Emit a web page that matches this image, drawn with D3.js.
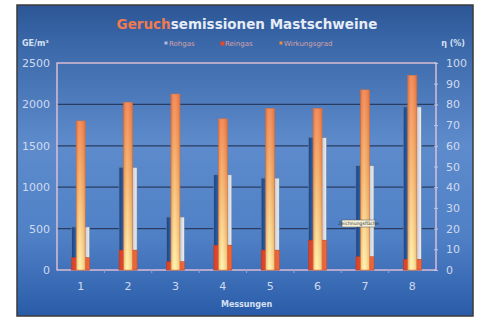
<!DOCTYPE html>
<html>
<head>
<meta charset="utf-8">
<script src="https://cdn.jsdelivr.net/npm/d3@7"></script>
<style>
  body { margin: 0; background: #fff; }
  svg { display: block; font-family: "DejaVu Sans", Verdana, sans-serif; }
</style>
</head>
<body>
<div id="chart"></div>
<script>
// Messungen 1..8
const categories = ["1", "2", "3", "4", "5", "6", "7", "8"];
const rohgas = [520, 1240, 640, 1150, 1110, 1600, 1260, 1970];
const reingas = [150, 240, 100, 300, 240, 360, 160, 130];
const wirkungsgrad = [72, 81, 85, 73, 78, 78, 87, 94];
const leftTicks = [0, 500, 1000, 1500, 2000, 2500];
const rightTicks = [0, 10, 20, 30, 40, 50, 60, 70, 80, 90, 100];
const gridTicks = [500, 1000, 1500, 2000];

const W = 481, H = 317;
const box = { x: 17, y: 5, w: 456, h: 311 };
const plot = { left: 57, right: 436, top: 63, bottom: 270 };

const svg = d3.select("#chart").append("svg")
    .attr("width", W)
    .attr("height", H);

const defs = svg.append("defs");

// hintergrund
const bg = defs.append("linearGradient").attr("id", "bg")
    .attr("x1", 0).attr("y1", 0).attr("x2", 0).attr("y2", 1);
bg.append("stop").attr("offset", "0%").attr("stop-color", "#2c5696");
bg.append("stop").attr("offset", "12%").attr("stop-color", "#3a67a8");
bg.append("stop").attr("offset", "45%").attr("stop-color", "#5d8bcc");
bg.append("stop").attr("offset", "75%").attr("stop-color", "#4f80c6");
bg.append("stop").attr("offset", "100%").attr("stop-color", "#2a5ba8");

const rohGrad = defs.append("linearGradient").attr("id", "roh")
    .attr("x1", 0).attr("y1", 0).attr("x2", 1).attr("y2", 0);
rohGrad.append("stop").attr("offset", "0%").attr("stop-color", "#13428a");
rohGrad.append("stop").attr("offset", "30%").attr("stop-color", "#3a6aa8");
rohGrad.append("stop").attr("offset", "70%").attr("stop-color", "#b8c6d8");
rohGrad.append("stop").attr("offset", "100%").attr("stop-color", "#eef0f2");

const reinGrad = defs.append("linearGradient").attr("id", "rein")
    .attr("x1", 0).attr("y1", 0).attr("x2", 1).attr("y2", 0);
reinGrad.append("stop").attr("offset", "0%").attr("stop-color", "#d8402a");
reinGrad.append("stop").attr("offset", "100%").attr("stop-color", "#ee6a3a");

const wirkGrad = defs.append("linearGradient").attr("id", "wirk")
    .attr("x1", 0).attr("y1", 0).attr("x2", 0).attr("y2", 1);
wirkGrad.append("stop").attr("offset", "0%").attr("stop-color", "#f07a42");
wirkGrad.append("stop").attr("offset", "45%").attr("stop-color", "#f6b060");
wirkGrad.append("stop").attr("offset", "100%").attr("stop-color", "#fff2a0");

const wirkSide = defs.append("linearGradient").attr("id", "wirkSide")
    .attr("x1", 0).attr("y1", 0).attr("x2", 1).attr("y2", 0);
wirkSide.append("stop").attr("offset", "0%").attr("stop-color", "#c05020").attr("stop-opacity", 0.35);
wirkSide.append("stop").attr("offset", "40%").attr("stop-color", "#ffffff").attr("stop-opacity", 0.15);
wirkSide.append("stop").attr("offset", "100%").attr("stop-color", "#c05020").attr("stop-opacity", 0.3);

svg.append("rect")
    .attr("x", box.x).attr("y", box.y)
    .attr("width", box.w).attr("height", box.h)
    .attr("fill", "url(#bg)")
    .attr("stroke", "#3a3a3a")
    .attr("stroke-width", 1.5);

// skalen
const x = d3.scaleBand()
    .domain(categories)
    .range([plot.left, plot.right]);
const yL = d3.scaleLinear().domain([0, 2500]).range([plot.bottom, plot.top]);
const yR = d3.scaleLinear().domain([0, 100]).range([plot.bottom, plot.top]);

// gitter
svg.append("g")
    .selectAll("line")
    .data(gridTicks)
    .enter()
    .append("line")
    .attr("x1", plot.left).attr("x2", plot.right)
    .attr("y1", d => yL(d)).attr("y2", d => yL(d))
    .attr("stroke", "#2a3c62")
    .attr("stroke-width", 1.2);

// plotrahmen
svg.append("rect")
    .attr("x", plot.left).attr("y", plot.top)
    .attr("width", plot.right - plot.left).attr("height", plot.bottom - plot.top)
    .attr("fill", "none")
    .attr("stroke", "#f2c8d8")
    .attr("stroke-width", 1.3);

// achsen
const axisL = svg.append("g")
    .attr("transform", `translate(${plot.left},0)`)
    .call(d3.axisLeft(yL).tickValues(leftTicks).tickFormat(d3.format("d")).tickSize(0).tickPadding(7));
const axisR = svg.append("g")
    .attr("transform", `translate(${plot.right},0)`)
    .call(d3.axisRight(yR).tickValues(rightTicks).tickSize(4).tickPadding(6));
const axisB = svg.append("g")
    .attr("transform", `translate(0,${plot.bottom})`)
    .call(d3.axisBottom(x).tickSize(0).tickPadding(12));

[axisL, axisR, axisB].forEach(a => {
    a.select(".domain").remove();
    a.selectAll("text")
        .attr("fill", "#cfdaef")
        .attr("font-size", 11)
        .attr("font-family", "'DejaVu Sans', sans-serif");
    a.selectAll("line").attr("stroke", "#b9c8e6");
});
axisR.selectAll(".tick line").attr("x1", -2).attr("x2", 2);

// kleine tickmarken unten
svg.append("g")
    .selectAll("line")
    .data(categories.slice(1))
    .enter()
    .append("line")
    .attr("x1", d => x(d)).attr("x2", d => x(d))
    .attr("y1", plot.bottom - 1).attr("y2", plot.bottom + 3)
    .attr("stroke", "#8fa6d0");

const barW = 18, wirkW = 9;
const cx = d => x(d) + x.bandwidth() / 2;

// Rohgas
svg.append("g")
    .selectAll("rect")
    .data(categories)
    .enter()
    .append("rect")
    .attr("class", "bar")
    .attr("x", d => cx(d) - barW / 2)
    .attr("width", barW)
    .attr("y", (d, i) => yL(rohgas[i]))
    .attr("height", (d, i) => plot.bottom - yL(rohgas[i]))
    .attr("fill", "url(#roh)")
    .attr("stroke", "#6a7f9c")
    .attr("stroke-width", 0.6);

// Reingas
svg.append("g")
    .selectAll("rect")
    .data(categories)
    .enter()
    .append("rect")
    .attr("x", d => cx(d) - barW / 2)
    .attr("width", barW)
    .attr("y", (d, i) => yL(reingas[i]))
    .attr("height", (d, i) => plot.bottom - yL(reingas[i]))
    .attr("fill", "url(#rein)")
    .attr("stroke", "#b83a22")
    .attr("stroke-width", 0.5);

// Wirkungsgrad
const wirk = svg.append("g")
    .selectAll("g")
    .data(categories)
    .enter()
    .append("g");
wirk.append("rect")
    .attr("x", d => cx(d) - wirkW / 2)
    .attr("width", wirkW)
    .attr("y", (d, i) => yR(wirkungsgrad[i]))
    .attr("height", (d, i) => plot.bottom - yR(wirkungsgrad[i]))
    .attr("fill", "url(#wirk)")
    .attr("stroke", "#d8703a")
    .attr("stroke-width", 0.6);
wirk.append("rect")
    .attr("x", d => cx(d) - wirkW / 2)
    .attr("width", wirkW)
    .attr("y", (d, i) => yR(wirkungsgrad[i]))
    .attr("height", (d, i) => plot.bottom - yR(wirkungsgrad[i]))
    .attr("fill", "url(#wirkSide)");

// titel
const title = svg.append("text")
    .attr("x", 247).attr("y", 29)
    .attr("text-anchor", "middle")
    .attr("font-size", 13.5)
    .attr("font-weight", "bold");
title.append("tspan").attr("fill", "#f07a50").text("Geruch");
title.append("tspan").attr("fill", "#e6ecf6").text("semissionen Mastschweine");

// achsentitel
svg.append("text")
    .attr("x", 22).attr("y", 46)
    .attr("font-size", 8).attr("font-weight", "bold")
    .attr("fill", "#d6e0f2")
    .text("GE/m³");
svg.append("text")
    .attr("x", 465).attr("y", 46)
    .attr("text-anchor", "end")
    .attr("font-size", 8).attr("font-weight", "bold")
    .attr("fill", "#d6e0f2")
    .text("η (%)");
svg.append("text")
    .attr("x", (plot.left + plot.right) / 2).attr("y", 307)
    .attr("text-anchor", "middle")
    .attr("font-size", 8).attr("font-weight", "bold")
    .attr("fill", "#d6e0f2")
    .text("Messungen");

// legende
const legend = [
    { name: "Rohgas", color: "#a9bfe0", x: 166 },
    { name: "Reingas", color: "#e8482a", x: 222 },
    { name: "Wirkungsgrad", color: "#f08a40", x: 281 }
];
const lg = svg.append("g")
    .selectAll("g")
    .data(legend)
    .enter()
    .append("g")
    .attr("transform", d => `translate(${d.x},43)`);
lg.append("rect")
    .attr("x", -1.5).attr("y", -1.5)
    .attr("width", d => d.name === "Reingas" ? 4 : 3)
    .attr("height", d => d.name === "Reingas" ? 4 : 3)
    .attr("fill", d => d.color);
lg.append("text")
    .attr("x", 3).attr("y", 2.5)
    .attr("font-size", 7)
    .attr("fill", "#d6a0a8")
    .text(d => d.name);

// tooltip
const tip = svg.append("g").attr("transform", "translate(342,220)");
tip.append("rect")
    .attr("width", 33).attr("height", 7)
    .attr("fill", "#f4f0d8")
    .attr("stroke", "#555")
    .attr("stroke-width", 0.5);
tip.append("text")
    .attr("x", 16.5).attr("y", 5.2)
    .attr("text-anchor", "middle")
    .attr("font-size", 4.6)
    .attr("fill", "#333")
    .text("Zeichnungsfläche");
</script>
</body>
</html>
